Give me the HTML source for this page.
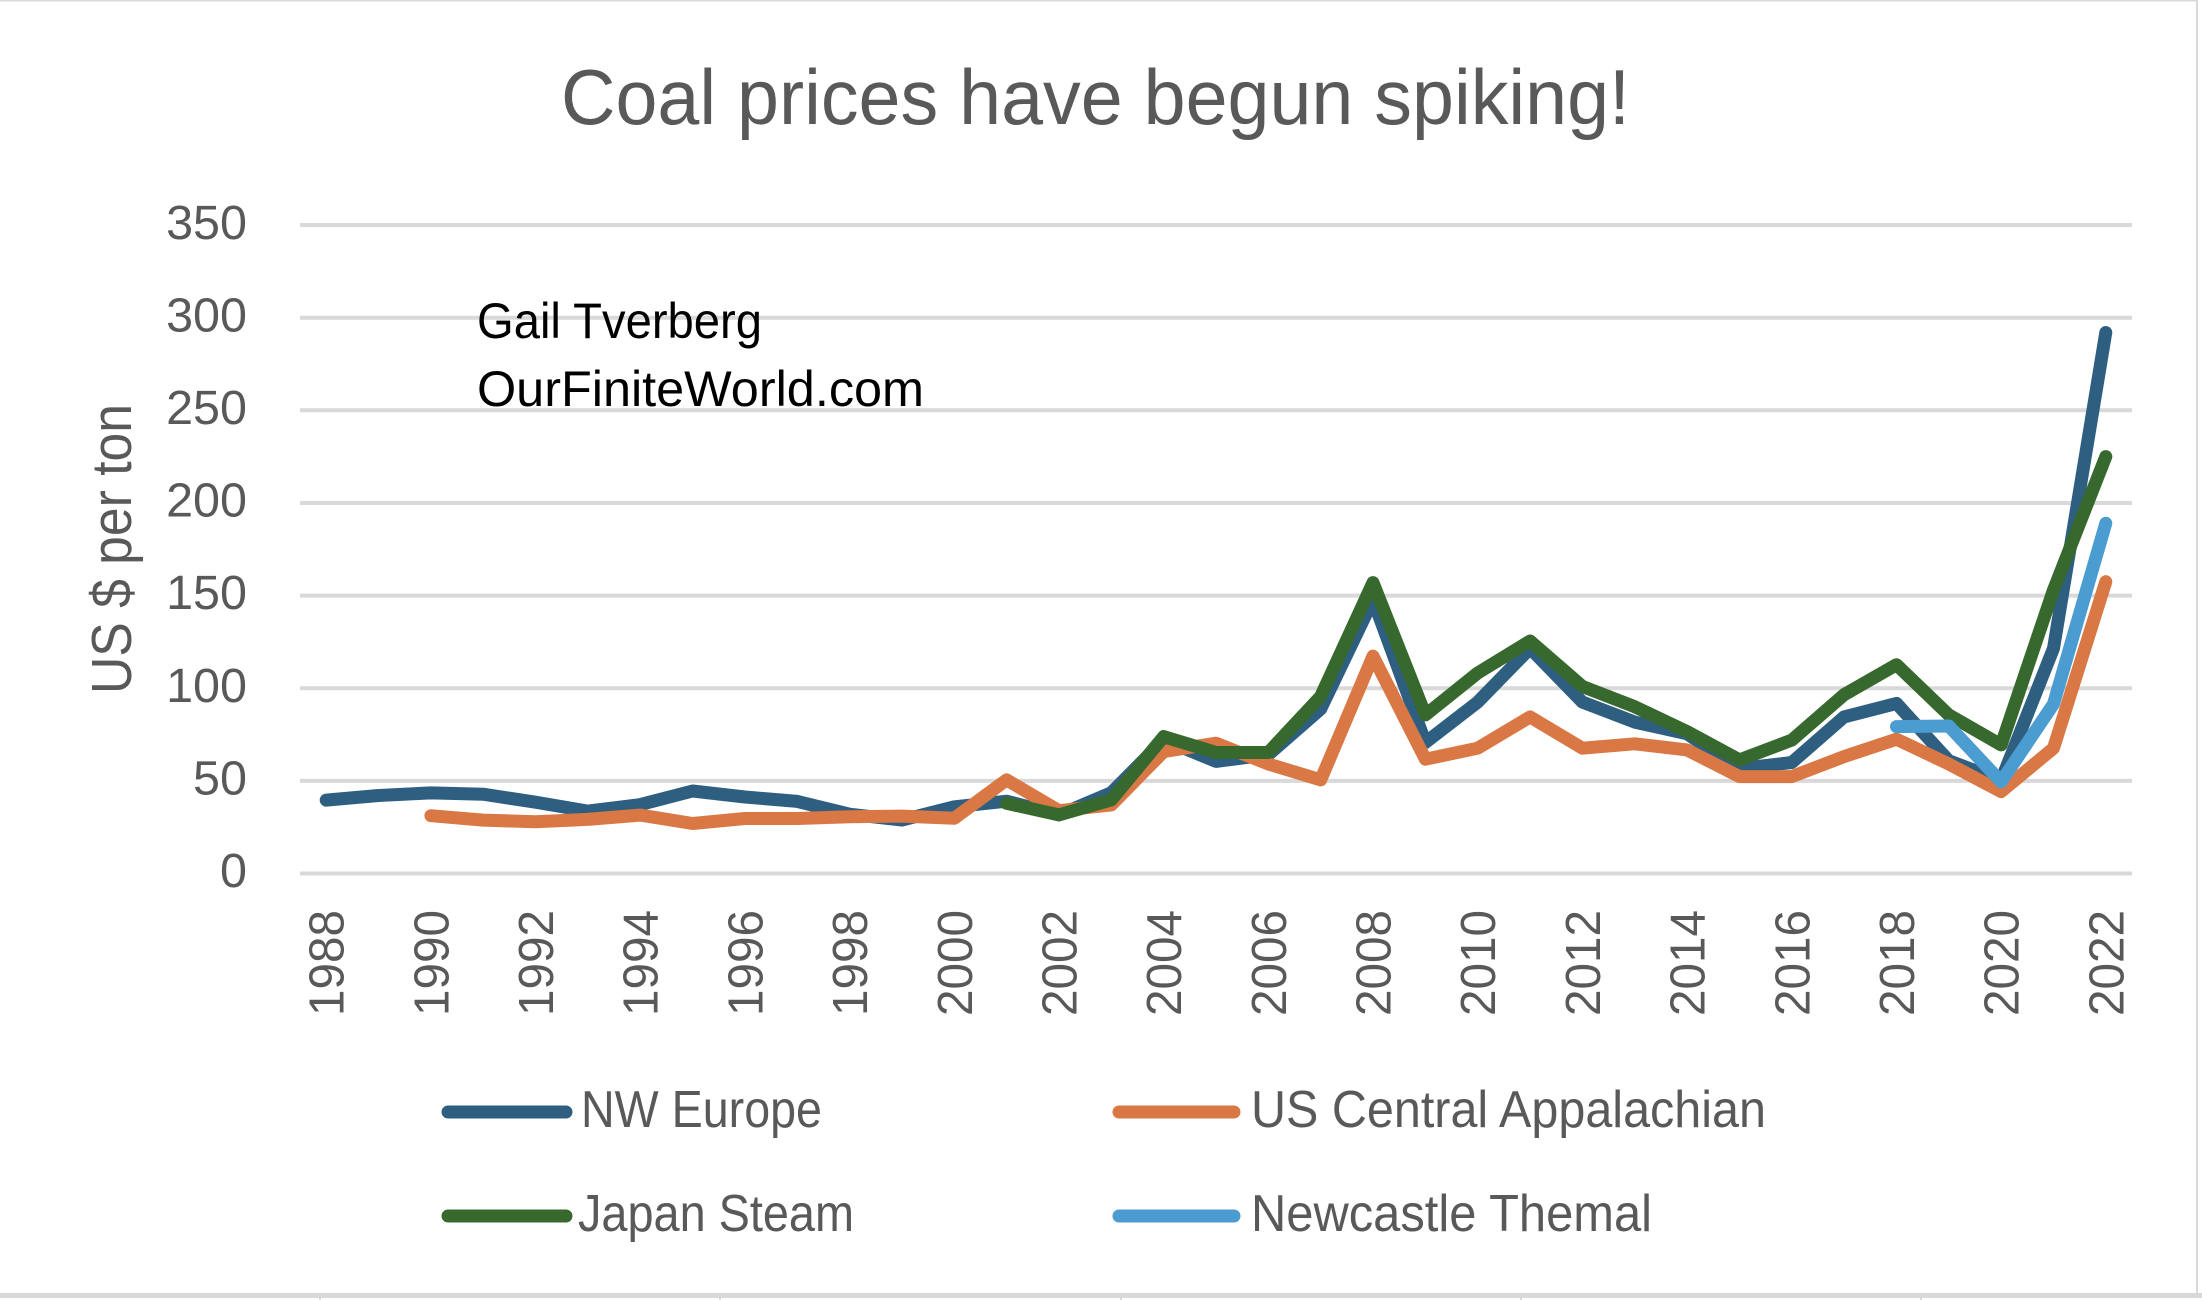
<!DOCTYPE html>
<html>
<head>
<meta charset="utf-8">
<style>
  html,body{margin:0;padding:0;background:#fff;}
  body{width:2202px;height:1300px;overflow:hidden;}
  svg{display:block;}
  .ax{font-family:"Liberation Sans",Arial,sans-serif;fill:#595959;}
  .nar{font-family:"Liberation Sans Narrow","Liberation Sans",Arial,sans-serif;}
</style>
</head>
<body>
<svg width="2202" height="1300" viewBox="0 0 2202 1300" xmlns="http://www.w3.org/2000/svg">
  <rect x="0" y="0" width="2202" height="1300" fill="#ffffff"/>
  <!-- outer borders -->
  <line x1="0" y1="0.5" x2="2198" y2="0.5" stroke="#D9D9D9" stroke-width="2"/>
  <line x1="2197" y1="0" x2="2197" y2="1298" stroke="#D9D9D9" stroke-width="2"/>
  <rect x="0" y="1293" width="2202" height="5" fill="#D9D9D9"/>
  <g stroke="#BFBFBF" stroke-width="1.2">
    <line x1="320" y1="1298" x2="320" y2="1300"/>
    <line x1="720" y1="1298" x2="720" y2="1300"/>
    <line x1="1121" y1="1298" x2="1121" y2="1300"/>
    <line x1="1521" y1="1298" x2="1521" y2="1300"/>
    <line x1="1921" y1="1298" x2="1921" y2="1300"/>
  </g>

  <!-- Title -->
  <text class="nar" x="1095.5" y="124" text-anchor="middle" font-size="78" fill="#595959" textLength="1069" lengthAdjust="spacingAndGlyphs">Coal prices have begun spiking!</text>

  <!-- gridlines -->
  <g stroke="#D9D9D9" stroke-width="4">
    <line x1="300" y1="225.0" x2="2132" y2="225.0"/>
    <line x1="300" y1="317.7" x2="2132" y2="317.7"/>
    <line x1="300" y1="410.3" x2="2132" y2="410.3"/>
    <line x1="300" y1="503.0" x2="2132" y2="503.0"/>
    <line x1="300" y1="595.6" x2="2132" y2="595.6"/>
    <line x1="300" y1="688.2" x2="2132" y2="688.2"/>
    <line x1="300" y1="780.9" x2="2132" y2="780.9"/>
    <line x1="300" y1="873.5" x2="2132" y2="873.5"/>
  </g>

  <!-- y tick labels -->
  <g class="ax" font-size="48.5" text-anchor="end">
    <text x="247" y="239">350</text>
    <text x="247" y="331.5">300</text>
    <text x="247" y="424">250</text>
    <text x="247" y="516.5">200</text>
    <text x="247" y="609">150</text>
    <text x="247" y="702">100</text>
    <text x="247" y="794.5">50</text>
    <text x="247" y="887">0</text>
  </g>

  <!-- y axis title -->
  <text class="ax" transform="translate(131,549) rotate(-90)" text-anchor="middle" font-size="57" textLength="290" lengthAdjust="spacingAndGlyphs">US $ per ton</text>

  <!-- watermark -->
  <text class="nar" x="477" y="338" font-size="50" fill="#000000" textLength="285" lengthAdjust="spacingAndGlyphs">Gail Tverberg</text>
  <text class="nar" x="477" y="406" font-size="50" fill="#000000" textLength="447" lengthAdjust="spacingAndGlyphs">OurFiniteWorld.com</text>

  <!-- x tick labels -->
  <g class="ax" font-size="49" text-anchor="end">
    <text transform="translate(343.7,910) rotate(-90)" textLength="106" lengthAdjust="spacingAndGlyphs">1988</text>
    <text transform="translate(448.4,910) rotate(-90)" textLength="106" lengthAdjust="spacingAndGlyphs">1990</text>
    <text transform="translate(553.0,910) rotate(-90)" textLength="106" lengthAdjust="spacingAndGlyphs">1992</text>
    <text transform="translate(657.7,910) rotate(-90)" textLength="106" lengthAdjust="spacingAndGlyphs">1994</text>
    <text transform="translate(762.4,910) rotate(-90)" textLength="106" lengthAdjust="spacingAndGlyphs">1996</text>
    <text transform="translate(867.1,910) rotate(-90)" textLength="106" lengthAdjust="spacingAndGlyphs">1998</text>
    <text transform="translate(971.8,910) rotate(-90)" textLength="106" lengthAdjust="spacingAndGlyphs">2000</text>
    <text transform="translate(1076.5,910) rotate(-90)" textLength="106" lengthAdjust="spacingAndGlyphs">2002</text>
    <text transform="translate(1181.2,910) rotate(-90)" textLength="106" lengthAdjust="spacingAndGlyphs">2004</text>
    <text transform="translate(1285.8,910) rotate(-90)" textLength="106" lengthAdjust="spacingAndGlyphs">2006</text>
    <text transform="translate(1390.5,910) rotate(-90)" textLength="106" lengthAdjust="spacingAndGlyphs">2008</text>
    <text transform="translate(1495.2,910) rotate(-90)" textLength="106" lengthAdjust="spacingAndGlyphs">2010</text>
    <text transform="translate(1599.9,910) rotate(-90)" textLength="106" lengthAdjust="spacingAndGlyphs">2012</text>
    <text transform="translate(1704.6,910) rotate(-90)" textLength="106" lengthAdjust="spacingAndGlyphs">2014</text>
    <text transform="translate(1809.3,910) rotate(-90)" textLength="106" lengthAdjust="spacingAndGlyphs">2016</text>
    <text transform="translate(1914.0,910) rotate(-90)" textLength="106" lengthAdjust="spacingAndGlyphs">2018</text>
    <text transform="translate(2018.6,910) rotate(-90)" textLength="106" lengthAdjust="spacingAndGlyphs">2020</text>
    <text transform="translate(2123.3,910) rotate(-90)" textLength="106" lengthAdjust="spacingAndGlyphs">2022</text>
  </g>

  <!-- series -->
  <g fill="none" stroke-width="13" stroke-linecap="round" stroke-linejoin="round">
    <!-- NW Europe -->
    <polyline stroke="#2F5F80" points="326.2,800.1 378.5,795.5 430.9,792.9 483.2,794.2 535.5,802.2 587.9,811.1 640.2,804.6 692.6,791.0 744.9,797.0 797.3,801.4 849.6,814.2 901.9,820.1 954.3,806.8 1006.6,801.2 1059.0,814.8 1111.3,792.7 1163.7,739.9 1216.0,761.4 1268.3,754.7 1320.7,709.0 1373.0,599.8 1425.4,742.5 1477.7,702.1 1530.1,648.4 1582.4,702.1 1634.7,722.1 1687.1,733.8 1739.4,768.6 1791.8,762.5 1844.1,716.9 1896.5,703.4 1948.8,760.7 2001.1,780.5 2053.5,648.4 2105.8,332.5"/>
    <!-- US Central Appalachian -->
    <polyline stroke="#D97844" points="430.9,815.7 483.2,820.1 535.5,821.8 587.9,819.4 640.2,815.1 692.6,823.5 744.9,818.5 797.3,818.5 849.6,816.8 901.9,816.1 954.3,818.3 1006.6,779.9 1059.0,810.7 1111.3,804.9 1163.7,751.6 1216.0,743.2 1268.3,764.0 1320.7,779.9 1373.0,656.2 1425.4,759.2 1477.7,748.2 1530.1,716.9 1582.4,748.2 1634.7,743.8 1687.1,749.9 1739.4,776.6 1791.8,776.6 1844.1,756.6 1896.5,739.2 1948.8,764.0 2001.1,791.6 2053.5,748.2 2105.8,581.7"/>
    <!-- Japan Steam -->
    <polyline stroke="#37692E" points="1006.6,803.3 1059.0,814.9 1111.3,799.9 1163.7,736.6 1216.0,752.5 1268.3,752.5 1320.7,696.4 1373.0,582.6 1425.4,714.9 1477.7,673.0 1530.1,641.0 1582.4,686.4 1634.7,706.7 1687.1,731.6 1739.4,759.9 1791.8,740.1 1844.1,694.7 1896.5,664.7 1948.8,714.9 2001.1,744.9 2053.5,590.0 2105.8,456.6"/>
    <!-- Newcastle Themal -->
    <polyline stroke="#4B9CD0" points="1896.5,726.6 1948.8,726.0 2001.1,781.8 2053.5,704.0 2105.8,523.3"/>
  </g>

  <!-- legend -->
  <g stroke-width="13" stroke-linecap="round">
    <line x1="448" y1="1112" x2="566" y2="1112" stroke="#2F5F80"/>
    <line x1="448" y1="1216" x2="566" y2="1216" stroke="#37692E"/>
    <line x1="1119" y1="1112" x2="1234" y2="1112" stroke="#D97844"/>
    <line x1="1119" y1="1216" x2="1234" y2="1216" stroke="#4B9CD0"/>
  </g>
  <g class="nar" font-size="52" fill="#595959">
    <text x="581" y="1127" textLength="241" lengthAdjust="spacingAndGlyphs">NW Europe</text>
    <text x="578" y="1231" textLength="276" lengthAdjust="spacingAndGlyphs">Japan Steam</text>
    <text x="1251" y="1127" textLength="515" lengthAdjust="spacingAndGlyphs">US Central Appalachian</text>
    <text x="1251" y="1231" textLength="401" lengthAdjust="spacingAndGlyphs">Newcastle Themal</text>
  </g>
</svg>
</body>
</html>
